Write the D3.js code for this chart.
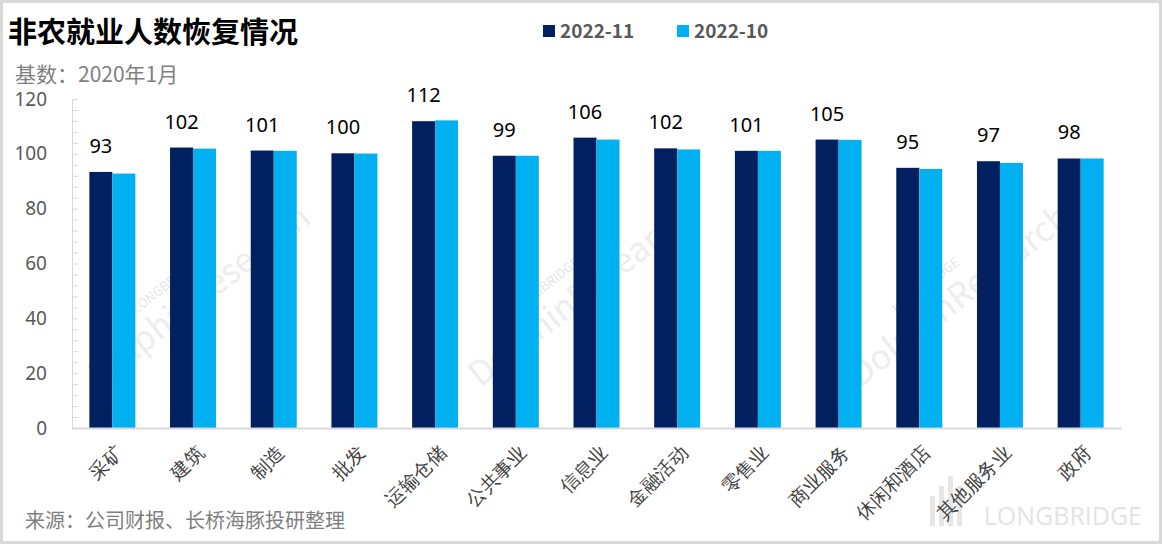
<!DOCTYPE html>
<html>
<head>
<meta charset="utf-8">
<script src="https://cdn.jsdelivr.net/npm/d3@7"></script>
<style>
  html, body { margin: 0; padding: 0; background: #fff; }
  svg { display: block; font-family: "Noto Sans CJK SC", "Noto Sans", sans-serif; }
</style>
</head>
<body>
<div id="chart"></div>
<script>
// data
const categories = ["采矿", "建筑", "制造", "批发", "运输仓储", "公共事业", "信息业",
                    "金融活动", "零售业", "商业服务", "休闲和酒店", "其他服务业", "政府"];
const seriesNames = ["2022-11", "2022-10"];
const nov = [93.4, 102.3, 101.2, 100.2, 111.9, 99.3, 105.9, 102.0, 101.1, 105.2, 94.9, 97.3, 98.3];
const oct = [92.8, 101.9, 101.1, 100.1, 112.2, 99.3, 105.2, 101.6, 101.1, 105.1, 94.5, 96.7, 98.3];
const labels = ["93", "102", "101", "100", "112", "99", "106", "102", "101", "105", "95", "97", "98"];
const yTicks = [0, 20, 40, 60, 80, 100, 120];
const colors = ["#002060", "#00b0f0"];

const W = 1162, H = 544;
const plot = {left: 72, right: 1121, top: 99, bottom: 428};

const svg = d3.select("#chart").append("svg")
    .attr("width", W)
    .attr("height", H);

// frame
svg.append("rect")
    .attr("x", 1.5).attr("y", 1.5)
    .attr("width", W - 3).attr("height", H - 3)
    .attr("fill", "#fff")
    .attr("stroke", "#d9d9d9")
    .attr("stroke-width", 3);

// faint watermarks behind everything
const wm = svg.append("g").attr("class", "watermark");
[[190, 300], [570, 300], [950, 300]].forEach(function(p) {
    let g = wm.append("g").attr("transform", "translate(" + p[0] + "," + p[1] + ") rotate(-38)");
    g.append("text")
        .attr("x", -10).attr("y", -22)
        .attr("text-anchor", "middle")
        .attr("font-size", 13)
        .attr("fill", "#e6e6e6")
        .text("LONGBRIDGE");
    g.append("text")
        .attr("x", 10).attr("y", 14)
        .attr("text-anchor", "middle")
        .attr("font-size", 34)
        .attr("fill", "#ededed")
        .text("DolphinResearch");
});
wm.append("text")
    .attr("x", 1142).attr("y", 525)
    .attr("text-anchor", "end")
    .attr("font-family", "Open Sans, sans-serif")
    .attr("font-size", 25)
    .attr("fill", "#e3e3e3")
    .text("LONGBRIDGE");
wm.selectAll("rect.logo")
    .data([30, 40, 50, 40])
    .enter()
    .append("rect")
    .attr("x", (d, i) => 930 + i * 9)
    .attr("y", d => 526 - d)
    .attr("width", 5)
    .attr("height", d => d)
    .attr("fill", "#e6e6e6");

// title + subtitle
svg.append("text")
    .attr("x", 8).attr("y", 43)
    .attr("font-size", 29)
    .attr("font-weight", "bold")
    .attr("fill", "#000")
    .text("非农就业人数恢复情况");

svg.append("text")
    .attr("x", 15).attr("y", 82)
    .attr("font-size", 21)
    .attr("fill", "#7f7f7f")
    .text("基数：2020年1月");

// legend
const legend = svg.append("g");
const legendX = [543, 677];
seriesNames.forEach(function(name, i) {
    legend.append("rect")
        .attr("x", legendX[i]).attr("y", 25)
        .attr("width", 12).attr("height", 12)
        .attr("fill", colors[i]);
    legend.append("text")
        .attr("x", legendX[i] + 17).attr("y", 38)
        .attr("font-size", 19)
        .attr("font-weight", "bold")
        .attr("fill", "#595959")
        .text(name);
});

// scales
let x0 = d3.scaleBand()
    .domain(categories)
    .range([plot.left, plot.right])
    .paddingInner(0.43)
    .paddingOuter(0.215);

let x1 = d3.scaleBand()
    .domain(seriesNames)
    .range([0, x0.bandwidth()]);

let y = d3.scaleLinear()
    .domain([0, 120])
    .range([plot.bottom, plot.top]);

// y axis labels
let yAxis = d3.axisLeft(y).tickValues(yTicks).tickSize(0).tickPadding(25);
let yg = svg.append("g")
    .attr("transform", "translate(" + plot.left + ",0)")
    .call(yAxis);
yg.select(".domain").remove();
yg.selectAll("text")
    .attr("font-size", 19)
    .attr("font-family", "Noto Sans, sans-serif")
    .attr("fill", "#595959");

// y axis line with small inside ticks
let minor = svg.append("g")
    .attr("transform", "translate(" + plot.left + ",0)")
    .call(d3.axisRight(y).tickValues(d3.range(0, 121, 4)).tickSize(6).tickFormat(""));
minor.select(".domain").attr("stroke", "#d9d9d9").attr("stroke-width", 1);
minor.selectAll(".tick line").attr("stroke", "#d9d9d9");

// bars
const rows = categories.map((c, i) => ({cat: c, vals: [nov[i], oct[i]], label: labels[i]}));

let groups = svg.append("g")
    .selectAll("g.cat")
    .data(rows)
    .enter()
    .append("g")
    .attr("class", "cat")
    .attr("transform", d => "translate(" + x0(d.cat) + ",0)");

groups.selectAll("rect")
    .data(d => d.vals.map((v, i) => ({name: seriesNames[i], v: v, i: i})))
    .enter()
    .append("rect")
    .attr("x", d => x1(d.name))
    .attr("y", d => y(d.v))
    .attr("width", x1.bandwidth())
    .attr("height", d => plot.bottom - y(d.v))
    .attr("fill", d => colors[d.i]);

// value labels over the 2022-11 bar
groups.append("text")
    .attr("x", x1(seriesNames[0]) + x1.bandwidth() / 2)
    .attr("y", d => y(d.vals[0]) - 19)
    .attr("text-anchor", "middle")
    .attr("font-size", 20)
    .attr("font-family", "Noto Sans, sans-serif")
    .attr("fill", "#000")
    .text(d => d.label);

// x axis
let xg = svg.append("g")
    .attr("transform", "translate(0," + plot.bottom + ")")
    .call(d3.axisBottom(x0).tickSize(0).tickPadding(0));
xg.select(".domain").attr("stroke", "#d9d9d9").attr("stroke-width", 2);
xg.selectAll("text")
    .attr("font-size", 19)
    .attr("fill", "#404040")
    .attr("text-anchor", "end")
    .attr("dy", 0)
    .attr("transform", "translate(12,26) rotate(-45)");

// source
svg.append("text")
    .attr("x", 25).attr("y", 528)
    .attr("font-size", 20)
    .attr("fill", "#7f7f7f")
    .text("来源：公司财报、长桥海豚投研整理");
</script>
</body>
</html>
